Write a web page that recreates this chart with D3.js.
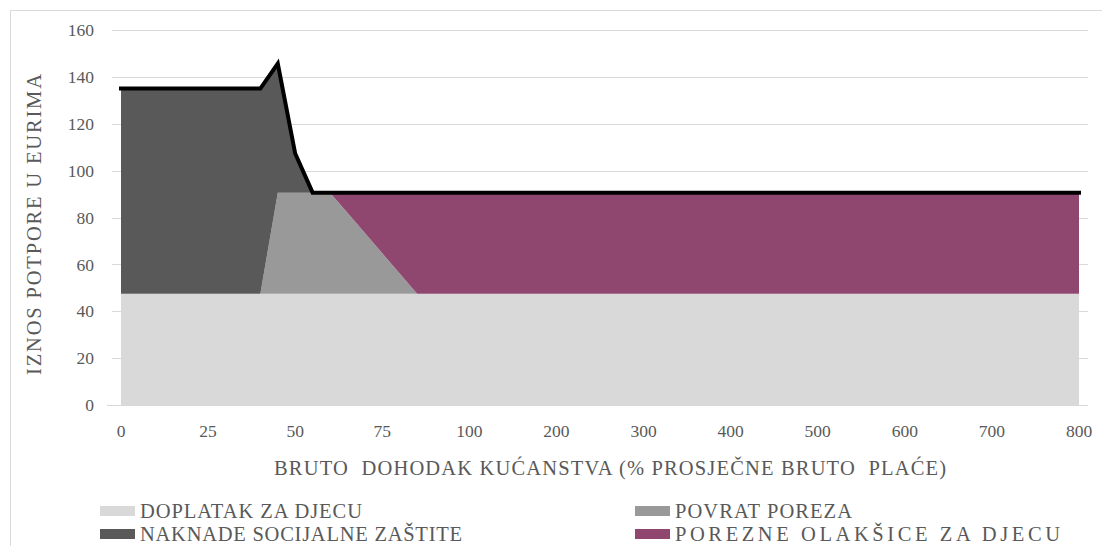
<!DOCTYPE html>
<html>
<head>
<meta charset="utf-8">
<script src="https://cdn.jsdelivr.net/npm/d3@7"></script>
<style>
  body { margin: 0; background: #fff; }
</style>
</head>
<body>
<svg id="chart" width="1102" height="546" font-family="'Liberation Serif', 'DejaVu Serif', serif"></svg>
<script>
// household gross income, % of average gross wage
var incomes = [0, 5, 10, 15, 20, 25, 30, 35, 40, 45, 50, 55, 60, 65, 70, 75, 80, 85, 90, 95, 100,
               200, 300, 400, 500, 600, 700, 800];
var tickLabels = [0, 25, 50, 75, 100, 200, 300, 400, 500, 600, 700, 800];

// amounts in EUR
var doplatak = [47.5, 47.5, 47.5, 47.5, 47.5, 47.5, 47.5, 47.5, 47.5, 47.5, 47.5, 47.5, 47.5, 47.5,
                47.5, 47.5, 47.5, 47.5, 47.5, 47.5, 47.5, 47.5, 47.5, 47.5, 47.5, 47.5, 47.5, 47.5];
var povrat   = [0, 0, 0, 0, 0, 0, 0, 0, 0, 43.1, 43.1, 43.1, 43.1, 34.5, 25.9, 17.2, 8.6, 0,
                0, 0, 0, 0, 0, 0, 0, 0, 0, 0];
var naknade  = [87.5, 87.5, 87.5, 87.5, 87.5, 87.5, 87.5, 87.5, 87.5, 55.1, 16.7, 0, 0, 0,
                0, 0, 0, 0, 0, 0, 0, 0, 0, 0, 0, 0, 0, 0];
var olaksice = [0, 0, 0, 0, 0, 0, 0, 0, 0, 0, 0, 0, 0, 8.6, 17.2, 25.9, 34.5, 43.1,
                43.1, 43.1, 43.1, 43.1, 43.1, 43.1, 43.1, 43.1, 43.1, 43.1];

var seriesNames = ["DOPLATAK ZA DJECU", "POVRAT POREZA", "NAKNADE SOCIJALNE ZAŠTITE", "POREZNE OLAKŠICE ZA DJECU"];
var seriesColors = ["#d9d9d9", "#999999", "#595959", "#8f466f"];
var seriesValues = [doplatak, povrat, naknade, olaksice];
// legend text widths as in the original
var legendWidths = [222, 177, 322, 385];

var svg = d3.select("#chart");
var textColor = "#595959";

// chart frame
svg.append("rect")
    .attr("x", 10.5).attr("y", 10.5)
    .attr("width", 1100).attr("height", 560)
    .attr("fill", "none")
    .attr("stroke", "#d9d9d9");

// category axis: 0-100 spaced by 25, then by 100
var x = d3.scaleLinear()
    .domain([0, 100, 800])
    .range([121, 121 + 4 * 87.1, 1079]);
var y = d3.scaleLinear()
    .domain([0, 160])
    .range([405, 30]);

// gridlines
svg.append("g")
  .selectAll("line")
  .data(d3.range(20, 161, 20))
  .enter().append("line")
    .attr("x1", 112).attr("x2", 1088)
    .attr("y1", function(d) { return Math.round(y(d)) + 0.5; })
    .attr("y2", function(d) { return Math.round(y(d)) + 0.5; })
    .attr("stroke", "#d9d9d9")
    .attr("stroke-width", 1);

// stacked data
var rows = incomes.map(function(inc, i) {
  var r = { income: inc };
  seriesValues.forEach(function(s, k) { r["s" + k] = s[i]; });
  return r;
});
var stack = d3.stack().keys(["s0", "s1", "s2", "s3"]);
var layers = stack(rows);

var area = d3.area()
    .x(function(d) { return x(d.data.income); })
    .y0(function(d) { return y(d[0]); })
    .y1(function(d) { return y(d[1]); });

svg.append("g")
  .selectAll("path")
  .data(layers)
  .enter().append("path")
    .attr("d", area)
    .attr("fill", function(d, i) { return seriesColors[i]; });

// axis line at zero
svg.append("line")
    .attr("x1", 107).attr("x2", 1088)
    .attr("y1", 405.5).attr("y2", 405.5)
    .attr("stroke", "#d9d9d9");

// total line
var line = d3.line()
    .x(function(d) { return x(d.income); })
    .y(function(d) { return y(d.s0 + d.s1 + d.s2 + d.s3); });

svg.append("path")
    .datum(rows)
    .attr("d", line)
    .attr("fill", "none")
    .attr("stroke", "#000")
    .attr("stroke-width", 4)
    .attr("stroke-linejoin", "miter")
    .attr("stroke-linecap", "square");

// y tick labels
svg.append("g")
  .selectAll("text")
  .data(d3.range(0, 161, 20))
  .enter().append("text")
    .attr("x", 94)
    .attr("y", function(d) { return y(d); })
    .attr("dy", "0.35em")
    .attr("text-anchor", "end")
    .attr("fill", textColor)
    .style("font-size", "17.5px")
    .text(function(d) { return d; });

// x tick labels
svg.append("g")
  .selectAll("text")
  .data(tickLabels)
  .enter().append("text")
    .attr("x", function(d) { return x(d); })
    .attr("y", 437)
    .attr("text-anchor", "middle")
    .attr("fill", textColor)
    .style("font-size", "17.5px")
    .text(function(d) { return d; });

// axis titles
svg.append("text")
    .attr("x", 274).attr("y", 475)
    .attr("fill", textColor)
    .attr("textLength", 672)
    .style("font-size", "20.5px")
    .style("white-space", "pre")
    .text("BRUTO  DOHODAK KUĆANSTVA (% PROSJEČNE BRUTO  PLAĆE)");

svg.append("text")
    .attr("transform", "translate(41,375) rotate(-90)")
    .attr("fill", textColor)
    .attr("textLength", 301)
    .style("font-size", "20.5px")
    .text("IZNOS POTPORE U EURIMA");

// legend, row-major in two columns
var legend = svg.append("g")
  .selectAll("g")
  .data([0, 1, 2, 3])
  .enter().append("g")
    .attr("transform", function(d, i) {
      var col = i % 2, row = Math.floor(i / 2);
      return "translate(" + (col ? 635 : 100) + "," + (row ? 541 : 518) + ")";
    });

legend.append("rect")
    .attr("x", 0).attr("y", -12)
    .attr("width", 35).attr("height", 10)
    .attr("fill", function(d) { return seriesColors[d]; });

legend.append("text")
    .attr("x", 40).attr("y", 0)
    .attr("fill", textColor)
    .attr("textLength", function(d) { return legendWidths[d]; })
    .style("font-size", "20.5px")
    .text(function(d) { return seriesNames[d]; });
</script>
</body>
</html>
